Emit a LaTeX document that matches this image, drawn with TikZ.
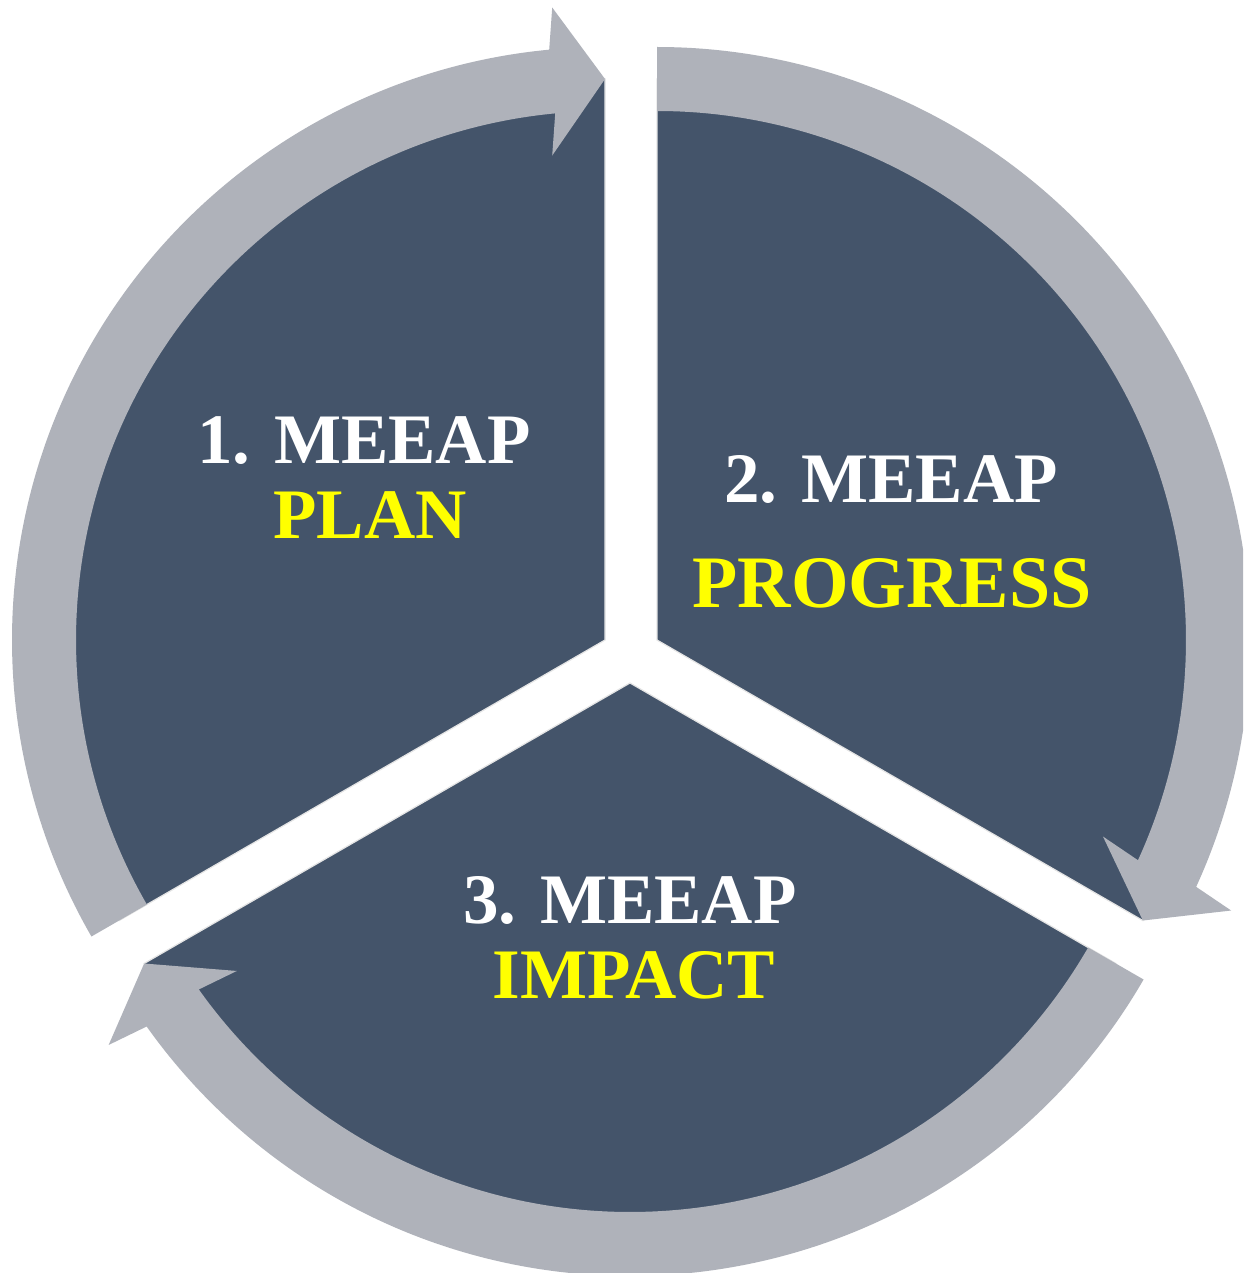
\documentclass[tikz,border=0pt]{standalone}
\usepackage{fontspec}
\setmainfont{Liberation Serif}
\usetikzlibrary{calc}
\definecolor{sectorblue}{HTML}{44546A}
\definecolor{ringgray}{RGB}{175,178,186}
\definecolor{txtyellow}{RGB}{255,255,0}
\newcommand\myringarrow[4]{% apex, start angle, tip angle, back angle
  \fill[ringarrowfill] ($(#1)+(#2:529)$) -- ($(#1)+(#2:593)$)
    arc[start angle=#2, end angle=#4, radius=593]
    -- ($(#1)+(#4:561)+(#3:74)$)
    -- ($(#1)+(#3:561)$)
    -- ($(#1)+(#4:561)-(#3:74)$)
    -- ($(#1)+(#4:529)$)
    arc[start angle=#4, end angle=#2, radius=529] -- cycle;}
\begin{document}
\begin{tikzpicture}[x=1pt,y=1pt,
  sectorfill/.style={fill=sectorblue, draw=black!10, line width=1.2pt, line join=miter},
  ringarrowfill/.style={fill=ringgray},
  cyctext/.style={font=\fontsize{71}{80}\selectfont\bfseries, anchor=base, inner sep=0pt},
  cycbig/.style={font=\fontsize{74}{84}\selectfont\bfseries, anchor=base, inner sep=0pt}]
\useasboundingbox (0,0) rectangle (1243,-1273);
\clip (0,0) rectangle (1243,-1273);
\fill[white] (0,0) rectangle (1243,-1273);

\coordinate (A1) at (605,-640);
\coordinate (A2) at (657,-640);
\coordinate (A3) at (630,-683);

% sectors (outer part hidden under the ring, visible only at the arrow tips)
\fill[sectorfill] (A1) -- ($(A1)+(90:561)$) arc[start angle=90, end angle=210, radius=561] -- cycle;
\fill[sectorfill] (A2) -- ($(A2)+(-30:561)$) arc[start angle=-30, end angle=90, radius=561] -- cycle;
\fill[sectorfill] (A3) -- ($(A3)+(210:561)$) arc[start angle=210, end angle=330, radius=561] -- cycle;

% ring arrows (clockwise)
\myringarrow{A1}{210}{90}{95.4}
\myringarrow{A2}{90}{-30}{-24.6}
\myringarrow{A3}{-30}{-150}{-144.6}

% texts
\node[cyctext, white] (t1a) at (364,-463) {1. MEEAP};
\node[cyctext, txtyellow] (t1b) at (370,-538) {PLAN};
\node[cyctext, white] (t2a) at (891,-502) {2. MEEAP};
\node[cycbig, txtyellow] (t2b) at (892,-607) {PROGRESS};
\node[cyctext, white] (t3a) at (630,-923) {3. MEEAP};
\node[cyctext, txtyellow] (t3b) at (634,-998) {IMPACT};
\end{tikzpicture}
\end{document}
